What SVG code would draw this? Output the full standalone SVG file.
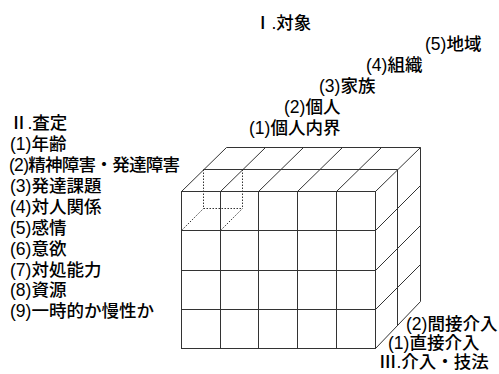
<svg xmlns="http://www.w3.org/2000/svg" width="499" height="374" viewBox="0 0 499 374">
<style>
.ln{stroke:#333;stroke-width:1;fill:none}
.dt{stroke:#333;stroke-width:1;fill:none;stroke-dasharray:1.5 1.5}
.t{font-family:"Liberation Sans","Noto Sans CJK JP",sans-serif;font-size:17.5px;font-weight:500;fill:#000}
</style>
<rect width="499" height="374" fill="#fff"/>
<g id="cube">
<g id="front-face" class="ln">
<rect x="181.5" y="191.5" width="194" height="157"/>
<path d="M220.5 191.5V348.5M258.5 191.5V348.5M297.5 191.5V348.5M336.5 191.5V348.5"/>
<path d="M181.5 230.5H375.5M181.5 270.5H375.5M181.5 309.5H375.5"/>
</g>
<g id="top-face" class="ln">
<path d="M203.5 169.5H397.5M226.5 147.5H420.5"/>
<path d="M181.5 191.5L226.5 147.5M220.5 191.5L265.5 147.5M258.5 191.5L303.5 147.5M297.5 191.5L342.5 147.5M336.5 191.5L381.5 147.5M375.5 191.5L420.5 147.5"/>
</g>
<g id="right-face" class="ln">
<path d="M397.5 169.5V325M420.5 147.5V301.5"/>
<path d="M375.5 230.5L420.5 185.5M375.5 270.5L420.5 225.5M375.5 309.5L420.5 264.5M375.5 348.5L420.5 301.5"/>
</g>
<g id="hidden-cell" class="dt">
<path d="M203.5 169.5V208.5M242.5 169.5V208.5M203.5 208.5H242.5M181.5 230.5L203.5 208.5M220.5 230.5L242.5 208.5"/>
</g>
</g>
<g id="axis-1" class="t">
<text x="254" y="29">Ⅰ.対象</text>
<text x="425" y="50">(5)地域</text>
<text x="366" y="71">(4)組織</text>
<text x="319" y="92">(3)家族</text>
<text x="284" y="113">(2)個人</text>
<text x="249" y="134">(1)個人内界</text>
</g>
<g id="axis-2" class="t">
<text x="10" y="128.5">Ⅱ.査定</text>
<text x="10" y="149.5">(1)年齢</text>
<text x="9" y="170.5" textLength="171" lengthAdjust="spacing">(2)精神障害・発達障害</text>
<text x="10" y="191.5">(3)発達課題</text>
<text x="10" y="212.5">(4)対人関係</text>
<text x="10" y="233.5">(5)感情</text>
<text x="10" y="254.5">(6)意欲</text>
<text x="10" y="275.5">(7)対処能力</text>
<text x="10" y="296">(8)資源</text>
<text x="10" y="317">(9)一時的か慢性か</text>
</g>
<g id="axis-3" class="t">
<text x="406" y="329.5">(2)間接介入</text>
<text x="388" y="348.5">(1)直接介入</text>
<text x="379" y="367.5">Ⅲ.介入・技法</text>
</g>
</svg>
